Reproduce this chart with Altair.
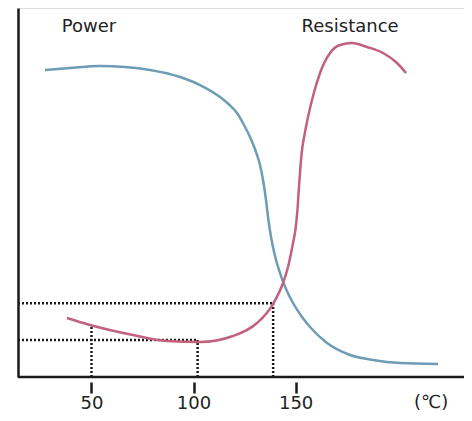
import altair as alt
import pandas as pd

# Power curve (temperature in degC, relative value)
power_temp = [27.23, 39.48, 54.18, 66.43, 78.67, 93.37, 103.17, 112.97, 117.38, 121.30,
              124.73, 127.67, 130.61, 132.57, 134.04, 135.51, 136.49, 137.96, 139.92,
              142.37, 145.31, 148.74, 153.15, 157.07, 165.40, 176.67, 187.93, 201.16,
              219.78]
power_val = [83.20, 83.74, 84.28, 84.01, 83.20, 81.30, 79.13, 75.88, 73.85, 71.54,
             68.29, 65.04, 60.98, 57.45, 53.39, 47.97, 43.36, 37.94, 32.79,
             28.18, 23.85, 20.05, 16.26, 13.55, 9.21, 5.96, 4.61, 3.79, 3.52]

# Resistance curve
res_temp = [38.01, 49.28, 70.34, 87.00, 103.17, 119.34, 131.10, 138.94, 143.84, 146.29,
            148.74, 149.96, 150.94, 151.68, 152.41, 153.15, 153.88, 154.62, 156.09,
            158.54, 161.97, 166.87, 171.77, 177.65, 185.00, 192.84, 199.70, 204.11]
res_val = [15.99, 14.09, 11.38, 9.76, 9.49, 11.11, 14.63, 19.78, 25.47, 29.81,
           36.31, 40.11, 45.53, 51.76, 57.18, 61.52, 64.23, 66.40, 70.46,
           76.15, 82.38, 87.80, 89.97, 90.51, 89.43, 87.80, 85.09, 82.38]

tick_values = [50, 100, 150]

# dotted reference lines
h_y = [20, 10]
h_x_end = [139, 102]
v_x = [50, 102, 139]
v_y_end = [14.0, 10, 20]

label_text = ["Power", "Resistance"]
label_x = [48.8, 176.7]
label_y = [94.9, 94.9]

unit_text = ["(℃)"]
unit_x = [216.4]
unit_y = [-7.0]

X_MIN, X_MAX = 14, 232.5
Y_MIN, Y_MAX = 0, 100

FONT = "DejaVu Sans"
INK = "#1a1a1a"

xs = alt.Scale(domain=[X_MIN, X_MAX], nice=False, zero=False)
ys = alt.Scale(domain=[Y_MIN, Y_MAX], nice=False, zero=False)

df_power = pd.DataFrame({"t": power_temp, "v": power_val})
df_res = pd.DataFrame({"t": res_temp, "v": res_val})
df_h = pd.DataFrame({"x": [X_MIN] * len(h_y), "x2": h_x_end, "y": h_y})
df_v = pd.DataFrame({"x": v_x, "y": [0] * len(v_x), "y2": v_y_end})
df_base = pd.DataFrame({"x": [X_MIN], "x2": [X_MAX], "y": [Y_MIN]})
df_lab = pd.DataFrame({"text": label_text, "x": label_x, "y": label_y})
df_unit = pd.DataFrame({"text": unit_text, "x": unit_x, "y": unit_y})

x_axis = alt.Axis(values=tick_values, domain=False, grid=False, offset=5, tickSize=11,
                  tickWidth=2.5, tickColor=INK, labelFontSize=18, labelFont=FONT,
                  labelColor="#222", labelPadding=1, title=None)
y_axis = alt.Axis(domain=True, domainColor=INK, domainWidth=2.5, ticks=False,
                  labels=False, grid=False, title=None)

power = alt.Chart(df_power).mark_line(color="#6d9db5", strokeWidth=2.5, interpolate="monotone").encode(
    x=alt.X("t:Q", scale=xs, axis=x_axis),
    y=alt.Y("v:Q", scale=ys, axis=y_axis),
)
res = alt.Chart(df_res).mark_line(color="#c2617d", strokeWidth=2.5, interpolate="monotone").encode(
    x=alt.X("t:Q", scale=xs),
    y=alt.Y("v:Q", scale=ys),
)
hlines = alt.Chart(df_h).mark_rule(color=INK, strokeWidth=2.5, strokeDash=[2, 2]).encode(
    x=alt.X("x:Q", scale=xs), x2="x2:Q", y=alt.Y("y:Q", scale=ys)
)
vlines = alt.Chart(df_v).mark_rule(color=INK, strokeWidth=2.5, strokeDash=[2, 2]).encode(
    x=alt.X("x:Q", scale=xs), y=alt.Y("y:Q", scale=ys), y2="y2:Q"
)
base = alt.Chart(df_base).mark_rule(color=INK, strokeWidth=2.5).encode(
    x=alt.X("x:Q", scale=xs), x2="x2:Q", y=alt.Y("y:Q", scale=ys)
)
labels = alt.Chart(df_lab).mark_text(font=FONT, fontSize=18, color="#222").encode(
    x=alt.X("x:Q", scale=xs), y=alt.Y("y:Q", scale=ys), text="text:N"
)
unit = alt.Chart(df_unit).mark_text(font=FONT, fontSize=18, color="#222").encode(
    x=alt.X("x:Q", scale=xs), y=alt.Y("y:Q", scale=ys), text="text:N"
)

chart = alt.layer(hlines, vlines, power, res, base, labels, unit).properties(
    width=446, height=369,
    autosize=alt.AutoSizeParams(type="none"),
    padding={"left": 10, "top": 0, "right": 0, "bottom": 36},
).configure_view(stroke=None).configure(background="white")

chart.save("out.html", embed_options={"renderer": "svg", "actions": False})
